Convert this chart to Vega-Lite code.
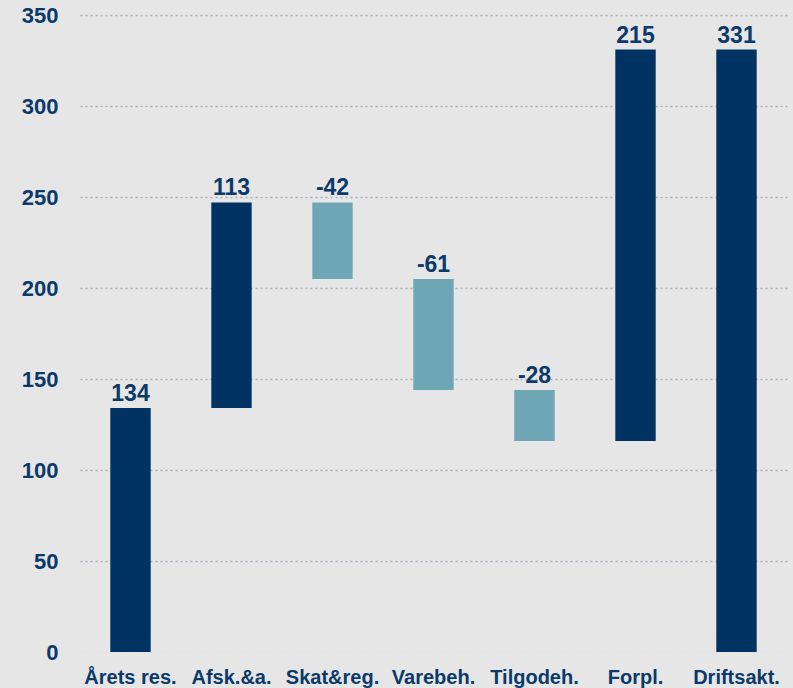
{
  "$schema": "https://vega.github.io/schema/vega-lite/v6.json",
  "width": 707,
  "height": 637,
  "autosize": {"type": "none"},
  "padding": {"left": 80, "top": 15, "right": 6, "bottom": 36},
  "background": "#e6e6e6",
  "config": {
    "view": {"stroke": null},
    "font": "Liberation Sans"
  },
  "data": {
    "values": [
      {"category": "Årets res.", "start": 0, "end": 134, "kind": "total", "label": "134"},
      {"category": "Afsk.&a.", "start": 134, "end": 247, "kind": "up", "label": "113"},
      {"category": "Skat&reg.", "start": 247, "end": 205, "kind": "down", "label": "-42"},
      {"category": "Varebeh.", "start": 205, "end": 144, "kind": "down", "label": "-61"},
      {"category": "Tilgodeh.", "start": 144, "end": 116, "kind": "down", "label": "-28"},
      {"category": "Forpl.", "start": 116, "end": 331, "kind": "up", "label": "215"},
      {"category": "Driftsakt.", "start": 0, "end": 331, "kind": "total", "label": "331"}
    ]
  },
  "encoding": {
    "x": {
      "field": "category",
      "type": "nominal",
      "sort": null,
      "scale": {"paddingInner": 0.6, "paddingOuter": 0.3},
      "axis": {
        "title": null,
        "labelAngle": 0,
        "domain": false,
        "ticks": false,
        "labelFont": "Liberation Sans",
        "labelFontWeight": "bold",
        "labelFontSize": 20,
        "labelColor": "#0b3a6a",
        "labelPadding": 15
      }
    }
  },
  "layer": [
    {
      "mark": {"type": "bar"},
      "encoding": {
        "y": {
          "field": "start",
          "type": "quantitative",
          "scale": {"domain": [0, 350], "nice": false},
          "axis": {
            "title": null,
            "values": [0, 50, 100, 150, 200, 250, 300, 350],
            "domain": false,
            "ticks": false,
            "labelFont": "Liberation Sans",
            "labelFontWeight": "bold",
            "labelFontSize": 22,
            "labelColor": "#0b3a6a",
            "labelPadding": 22,
            "gridColor": {"condition": {"test": "datum.value === 0", "value": "#dfe1ea"}, "value": "#a9acbd"},
            "gridDash": [2, 3],
            "gridWidth": 1.5
          }
        },
        "y2": {"field": "end"},
        "color": {
          "field": "kind",
          "type": "nominal",
          "scale": {"domain": ["total", "up", "down"], "range": ["#003262", "#003262", "#6fa6b6"]},
          "legend": null
        }
      }
    },
    {
      "transform": [{"calculate": "max(datum.start, datum.end)", "as": "top"}],
      "mark": {
        "type": "text",
        "baseline": "alphabetic",
        "dy": -7,
        "font": "Liberation Sans",
        "fontWeight": "bold",
        "fontSize": 23,
        "color": "#0b3a6a"
      },
      "encoding": {
        "y": {"field": "top", "type": "quantitative"},
        "text": {"field": "label"}
      }
    }
  ]
}
